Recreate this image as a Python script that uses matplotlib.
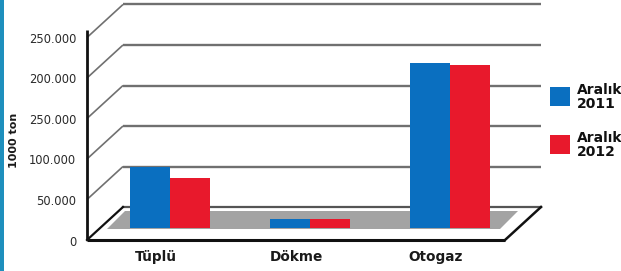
import matplotlib
matplotlib.use("Agg")
import matplotlib.pyplot as plt
from matplotlib.patches import Polygon, Rectangle

categories = ["Tüplü", "Dökme", "Otogaz"]
series_names = ["Aralık\n2011", "Aralık\n2012"]
values_2011 = [75000, 11000, 204000]
values_2012 = [62000, 11000, 201000]
tick_values = [0, 50000, 100000, 150000, 200000, 250000]
tick_labels = ["0", "50.000", "100.000", "250.000", "200.000", "250.000"]
y_title = "1000 ton"
colors = ["#0a6fc0", "#e8192c"]

W, H = 621, 271
fig = plt.figure(figsize=(W / 100, H / 100), dpi=100)
ax = fig.add_axes([0, 0, 1, 1])

# pixel <-> data helpers (layout only)
PXU = 140.0            # px per category unit
X0 = 170.0             # px of first group centre
PY0 = 228.0            # px of bar base
K = 50000 / 40.5       # tons per px
ax.set_xlim(-X0 / PXU, (W - X0) / PXU)
ax.set_ylim((PY0 - H) * K, PY0 * K)
ax.axis("off")

def dx(px):
    return px / PXU

def dy(px):
    return px * K

# 3D frame geometry
front_x = dx(87 - X0)
front_right = dx(505 - X0)
depth_x = dx(36)
back_x = front_x + depth_x
back_right = dx(541 - X0)
front_dy = -dy(12)
back_dy = dy(21)
grid_c = "#707070"

# gridlines on back wall with diagonals to the front axis
for v in tick_values[1:]:
    ax.plot([front_x, back_x], [v + front_dy, v + back_dy], color=grid_c, lw=1.2, zorder=1,
            solid_capstyle="butt")
    ax.plot([back_x, back_right], [v + back_dy, v + back_dy], color=grid_c, lw=1.7, zorder=1,
            solid_capstyle="butt")

# floor
ax.plot([back_x, back_right], [back_dy, back_dy], color="#555555", lw=1.6, zorder=1)
gray = Polygon([(front_x + dx(20), front_dy + dy(11)), (front_right - dx(5), front_dy + dy(11)),
                (front_right + dx(13), front_dy + dy(29)), (front_x + dx(38), front_dy + dy(29))],
               closed=True, facecolor="#a3a3a3", edgecolor="none", zorder=1)
ax.add_patch(gray)
ax.plot([front_x, back_x], [front_dy, back_dy], color="#111111", lw=1.6, zorder=2)
ax.plot([front_right, back_right], [front_dy, back_dy], color="#111111", lw=1.8, zorder=2)
ax.plot([front_x, front_right], [front_dy, front_dy], color="#111111", lw=2.2, zorder=2,
        solid_capstyle="butt")

# front axis
ax.plot([front_x, front_x], [front_dy, 259000 + front_dy], color="#111111", lw=2.0, zorder=2,
        solid_capstyle="butt")

# tick labels (front plane)
for v, lab in zip(tick_values, tick_labels):
    ax.text(dx(76 - X0), v + front_dy - dy(2), lab, ha="right", va="center",
            fontsize=8.3, color="#2a2a2a", family="DejaVu Sans")

# bars
x = list(range(len(categories)))
w = 40 / PXU
ax.bar([i - w / 2 for i in x], values_2011, width=w, color=colors[0], zorder=3)
ax.bar([i + w / 2 for i in x], values_2012, width=w, color=colors[1], zorder=3)

# category labels (front plane)
for i, c in enumerate(categories):
    ax.text(i - dx(14), front_dy - dy(17), c, ha="center", va="center",
            fontsize=9.8, fontweight="bold", color="#1a1a1a")

# y title
fig.text(14 / W, 1 - 140 / H, y_title, rotation=90, ha="center", va="center",
         fontsize=8, fontweight="bold", color="#1a1a1a")

# left blue strip
fig.patches.append(Rectangle((0, 0), 4 / W, 1, transform=fig.transFigure,
                             facecolor="#1e8fbd", edgecolor="none"))

# legend
for j, (name, col) in enumerate(zip(series_names, colors)):
    top = 87 + 48 * j
    fig.patches.append(Rectangle((550 / W, 1 - (top + 19) / H), 20 / W, 19 / H,
                                 transform=fig.transFigure, facecolor=col, edgecolor="none"))
    fig.text(577 / W, 1 - (top + 10) / H, name, ha="left", va="center",
             fontsize=10, fontweight="bold", color="#111111", linespacing=0.95)

fig.savefig("out.png", dpi=100)
